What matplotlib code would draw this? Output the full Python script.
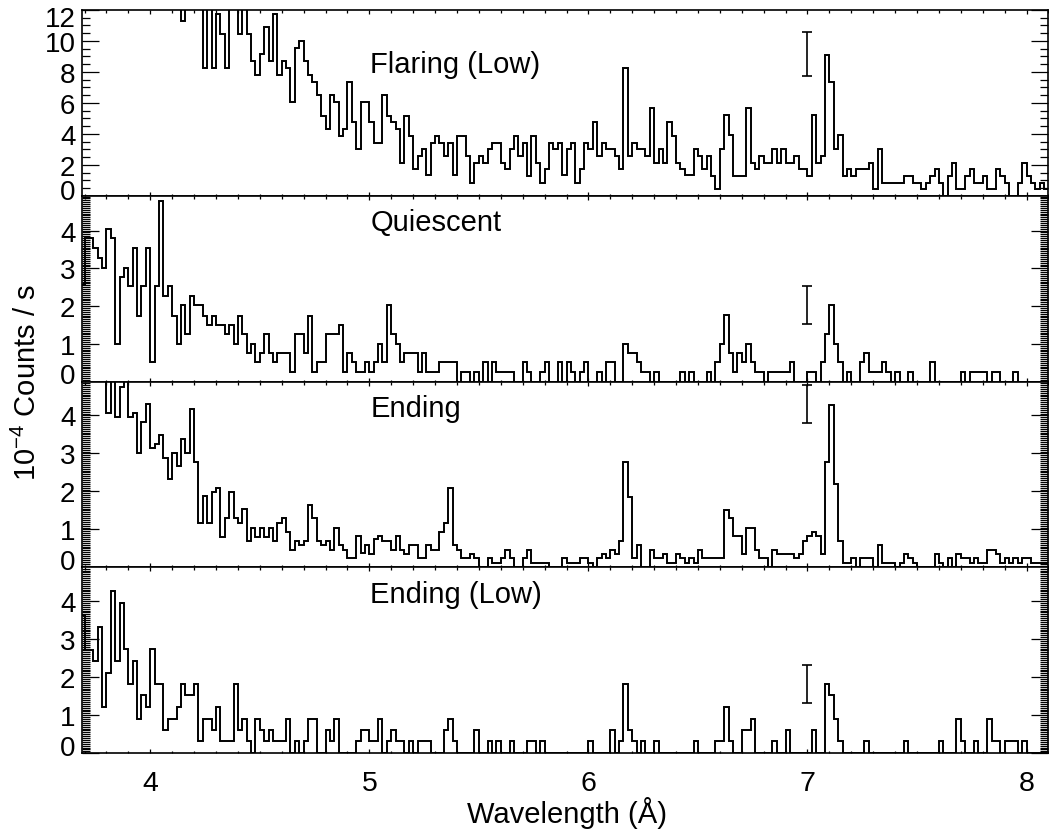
import numpy as np
import matplotlib
matplotlib.use("Agg")
import matplotlib.pyplot as plt
from matplotlib.ticker import MultipleLocator
from matplotlib.transforms import ScaledTranslation

plt.rcParams['font.family'] = ['Liberation Sans', 'DejaVu Sans']
plt.rcParams['mathtext.fontset'] = 'custom'
plt.rcParams['mathtext.rm'] = 'Liberation Sans'

# 0.02 A bins starting at 3.68 A, rates in 1e-4 counts/s
bin_start = 3.68
bin_width = 0.02

flaring_low = [
    21, 20, 19.5, 20.5, 18, 19, 17.5, 18, 16.5, 17,                # 3.68
    15.5, 16, 15, 15.5, 14.5, 14, 15, 13.5, 14, 13,                # 3.88
    13.5, 12.8, 13.2, 11.3, 12.6, 13.0, 12.8, 13.1, 8.27, 12.9,    # 4.08
    8.27, 11.77, 10.48, 8.27, 12.5, 12.7, 10.48, 12.4, 10.48, 8.72,  # 4.28
    7.81, 9.13, 10.87, 8.72, 11.77, 7.81, 8.72, 8.27, 6.04, 9.57,  # 4.48
    10.0, 8.72, 7.81, 7.38, 6.52, 5.17, 4.31, 6.52, 6.04, 3.87,    # 4.68
    4.31, 7.38, 4.78, 3.01, 6.04, 6.04, 4.78, 3.44, 3.44, 6.52,    # 4.88
    5.17, 4.78, 4.31, 2.14, 5.17, 3.87, 1.71, 2.58, 3.0, 1.32,     # 5.08
    3.44, 3.87, 3.44, 2.58, 3.44, 1.32, 3.87, 3.87, 2.58, 0.84,    # 5.28
    2.14, 2.58, 2.14, 3.0, 3.44, 3.44, 2.14, 1.71, 3.0, 3.87,      # 5.48
    2.58, 3.44, 1.28, 3.87, 2.14, 0.84, 1.71, 3.44, 3.0, 3.44,     # 5.68
    1.32, 3.0, 3.44, 0.84, 1.71, 3.44, 3.0, 4.78, 2.58, 3.44,      # 5.88
    3.0, 3.0, 2.58, 1.71, 8.25, 2.58, 3.44, 3.0, 3.0, 2.58,        # 6.08
    5.65, 2.14, 3.0, 2.14, 4.78, 3.87, 2.14, 1.71, 1.32, 1.32,     # 6.28
    3.0, 2.58, 1.71, 2.58, 1.28, 0.41, 3.0, 5.2, 3.9, 1.28,        # 6.48
    1.28, 1.28, 5.65, 2.14, 1.71, 2.58, 2.14, 2.14, 3.0, 2.14,     # 6.68
    3.0, 2.14, 2.14, 2.58, 1.71, 1.71, 1.28, 5.2, 2.14, 2.58,      # 6.88
    9.1, 7.38, 3.0, 3.9, 1.28, 1.71, 1.28, 1.71, 1.71, 1.71,       # 7.08
    2.14, 0.41, 3.0, 0.84, 0.84, 0.84, 0.84, 0.84, 1.28, 1.28,     # 7.28
    0.84, 0.84, 0.41, 0.84, 1.28, 1.71, 0.84, 0, 1.28, 2.14,       # 7.48
    0.41, 0.41, 1.28, 1.71, 0.84, 0.84, 1.28, 0.41, 0.41, 1.71,    # 7.68
    1.28, 0.84, 0, 0, 0.84, 2.14, 1.28, 0.84, 0.41, 0.84,          # 7.88
    0.41,                                                          # 8.08
]

quiescent = [
    2.55, 3.79, 3.79, 3.54, 3.27, 3.02, 4.04, 3.79, 1.0, 2.77,
    3.02, 2.52, 3.54, 1.75, 2.52, 3.54, 0.51, 2.52, 4.78, 2.27,
    2.52, 1.75, 1.0, 2.02, 1.25, 2.27, 2.02, 2.02, 1.75, 1.5,
    1.75, 1.5, 1.5, 1.25, 1.5, 1.0, 1.75, 1.25, 0.76, 1.0,
    0.51, 0.76, 1.25, 0.76, 0.51, 0.76, 0.76, 0.76, 0.25, 1.25,
    1.25, 0.76, 1.75, 0.25, 0.51, 0.51, 1.25, 1.25, 1.25, 1.5,
    0.25, 0.76, 0.51, 0.25, 0.25, 0.51, 0.25, 0.51, 1.0, 0.51,
    2.02, 1.27, 1.0, 0.51, 0.76, 0.76, 0.76, 0.25, 0.76, 0.25,
    0.25, 0.25, 0.51, 0.51, 0.51, 0.51, 0, 0.25, 0.25, 0,
    0.25, 0, 0.51, 0, 0.51, 0.25, 0.25, 0.25, 0.25, 0,
    0, 0.51, 0.25, 0, 0, 0.25, 0.51, 0, 0, 0.51,
    0, 0.51, 0.25, 0, 0.25, 0.51, 0, 0, 0.25, 0,
    0.51, 0.51, 0, 0, 1.0, 0.76, 0.76, 0.51, 0.25, 0.25,
    0, 0.25, 0, 0, 0, 0, 0, 0.25, 0, 0.25,
    0, 0, 0, 0.25, 0, 0.51, 1.0, 1.77, 0.76, 0.25,
    0.76, 0.51, 1.0, 0.51, 0.25, 0.25, 0, 0.25, 0.25, 0.25,
    0.25, 0.25, 0.51, 0, 0, 0, 0.25, 0.25, 0, 0.51,
    1.27, 2.02, 1.0, 0.51, 0, 0.25, 0, 0, 0.51, 0.76,
    0.25, 0.25, 0.25, 0.51, 0.25, 0, 0.25, 0, 0, 0.25,
    0, 0, 0, 0, 0.51, 0, 0, 0, 0, 0,
    0, 0.25, 0, 0.25, 0.25, 0.25, 0.25, 0, 0.25, 0.25,
    0, 0, 0, 0.25, 0, 0, 0, 0, 0, 0,
    0,
]

ending = [
    5.6, 5.4, 5.8, 5.3, 5.5, 5.2, 4.07, 5.3, 3.95, 4.75,
    5.2, 3.95, 4.07, 3.02, 3.83, 4.3, 3.15, 3.26, 3.48, 2.89,
    2.32, 3.02, 2.67, 3.38, 3.02, 4.18, 2.78, 1.18, 1.88, 1.18,
    1.99, 2.1, 0.81, 1.29, 1.99, 1.29, 1.18, 1.53, 0.7, 1.05,
    0.81, 1.05, 0.81, 1.05, 0.7, 1.18, 1.29, 0.94, 0.47, 0.7,
    0.59, 0.7, 1.64, 1.29, 0.7, 0.59, 0.7, 0.47, 1.05, 0.59,
    0.47, 0.24, 0.24, 0.82, 0.37, 0.59, 0.35, 0.76, 0.82, 0.7,
    0.7, 0.47, 0.82, 0.47, 0.35, 0.59, 0.59, 0.24, 0.24, 0.59,
    0.47, 0.47, 0.94, 1.17, 2.08, 0.59, 0.47, 0.24, 0.24, 0.35,
    0.24, 0, 0, 0.24, 0.12, 0.12, 0.24, 0.47, 0.24, 0,
    0, 0.24, 0.47, 0.12, 0.12, 0.12, 0.12, 0, 0, 0,
    0.24, 0.12, 0.12, 0.12, 0.24, 0.24, 0.12, 0, 0.24, 0.35,
    0.24, 0.47, 0.35, 0.7, 2.78, 1.86, 0.24, 0.59, 0, 0,
    0.47, 0.24, 0.24, 0.35, 0.12, 0.12, 0.35, 0.24, 0.12, 0.24,
    0.12, 0.47, 0.24, 0.24, 0.24, 0.24, 0.24, 1.51, 1.29, 0.82,
    0.82, 0.35, 1.05, 1.05, 0.47, 0.24, 0.24, 0, 0.47, 0.35,
    0.35, 0.35, 0.35, 0.24, 0.35, 0.7, 0.82, 0.94, 0.82, 0.35,
    2.78, 4.27, 2.19, 0.7, 0.12, 0.12, 0.24, 0, 0.24, 0.24,
    0.24, 0, 0.59, 0.12, 0.12, 0.12, 0, 0.12, 0.35, 0.24,
    0.12, 0, 0, 0, 0, 0.35, 0.12, 0, 0.24, 0,
    0.35, 0.24, 0.24, 0.12, 0.24, 0.12, 0.12, 0.47, 0.47, 0.35,
    0.12, 0.24, 0.12, 0.24, 0.12, 0.24, 0.24, 0.12, 0.12, 0.12,
    0.12,
]

ending_low = [
    3.63, 2.71, 2.71, 2.42, 3.32, 1.22, 2.11, 4.25, 2.42, 3.94,
    2.73, 1.82, 2.42, 0.91, 1.53, 1.22, 2.73, 1.82, 1.82, 0.61,
    0.91, 0.91, 1.22, 1.82, 1.53, 1.53, 1.82, 0.31, 0.91, 0.91,
    0.61, 1.22, 0.31, 0.31, 0.31, 1.82, 0.61, 0.91, 0.31, 0,
    0.91, 0.61, 0.31, 0.61, 0.31, 0.31, 0.31, 0.91, 0, 0.31,
    0, 0.31, 0.91, 0.91, 0, 0, 0.61, 0.31, 0.91, 0,
    0, 0, 0, 0.31, 0.61, 0.61, 0.31, 0.31, 0.91, 0,
    0.31, 0.61, 0.31, 0.31, 0, 0.31, 0, 0.31, 0.31, 0.31,
    0, 0, 0, 0.61, 0.91, 0.31, 0, 0, 0, 0,
    0.61, 0, 0, 0.31, 0, 0.31, 0, 0, 0.31, 0,
    0, 0, 0.31, 0.31, 0, 0.31, 0, 0, 0, 0,
    0, 0, 0, 0, 0, 0, 0.31, 0, 0, 0,
    0, 0.61, 0, 0.31, 1.82, 0.61, 0.31, 0, 0.31, 0,
    0, 0.31, 0, 0, 0, 0, 0, 0, 0, 0,
    0.31, 0, 0, 0, 0, 0.31, 0.31, 1.22, 0.31, 0,
    0, 0.61, 0.61, 0.91, 0, 0, 0, 0, 0.31, 0,
    0, 0.61, 0, 0, 0, 0, 0, 0.61, 0, 0,
    1.82, 1.53, 0.91, 0.31, 0, 0, 0, 0, 0, 0.31,
    0, 0, 0, 0, 0, 0, 0, 0, 0.31, 0,
    0, 0, 0, 0, 0, 0, 0.31, 0, 0, 0,
    0.91, 0.31, 0, 0, 0.31, 0, 0, 0.91, 0.31, 0.31,
    0, 0.31, 0.31, 0.31, 0, 0.31, 0, 0, 0, 0,
    0,
]

panel_names = ['Flaring (Low)', 'Quiescent', 'Ending', 'Ending (Low)']
panel_data = [flaring_low, quiescent, ending, ending_low]
panel_ymax = [12.0, 4.92, 4.89, 4.88]
panel_yticks = [[0, 2, 4, 6, 8, 10, 12], [0, 1, 2, 3, 4], [0, 1, 2, 3, 4], [0, 1, 2, 3, 4]]
panel_yminor = [0.5, 0.05, 0.05, 0.05]
# representative error bar drawn at 7 A
err_x = 7.0
err_mid = [9.15, 2.02, 4.29, 1.82]
err_half = [1.44, 0.50, 0.50, 0.51]
# label baseline in axes fraction
name_y = [0.668, 0.817, 0.814, 0.815]
# upward nudge (pt) of the "0" label in each panel
zero_shift = [5.0, 6.0, 6.0, 6.0]

fig = plt.figure(figsize=(10.49, 8.37), dpi=100)
axes = fig.subplots(4, 1, sharex=True, gridspec_kw={'hspace': 0})
fig.subplots_adjust(left=0.0785, right=0.9995, top=0.9869, bottom=0.0988)

for i, ax in enumerate(axes):
    vals = np.array(panel_data[i], dtype=float)
    edges = np.round(bin_start + bin_width * np.arange(len(vals) + 1), 2)
    ax.stairs(vals, edges, baseline=None, color='black', lw=1.4)
    ax.errorbar([err_x], [err_mid[i]], yerr=[err_half[i]], fmt='none',
                ecolor='black', elinewidth=1.2, capsize=3.3, capthick=1.2)

    ax.set_xlim(3.69, 8.10)
    ax.set_ylim(0, panel_ymax[i])
    ax.set_yticks(panel_yticks[i])
    ax.yaxis.set_minor_locator(MultipleLocator(panel_yminor[i]))
    ax.xaxis.set_major_locator(MultipleLocator(1))
    ax.xaxis.set_minor_locator(MultipleLocator(0.1))

    ax.tick_params(axis='y', which='major', direction='in', left=True, right=True,
                   length=12.5, width=0.9, labelsize=20, pad=5)
    ax.tick_params(axis='y', which='minor', direction='in', left=True, right=True,
                   length=6, width=0.9)
    ax.tick_params(axis='x', which='major', direction='in', top=True, bottom=True,
                   length=3, width=0.9, labelsize=20.5, pad=12)
    ax.tick_params(axis='x', which='minor', direction='in', top=True, bottom=True,
                   length=1.8, width=0.9)
    for sp in ax.spines.values():
        sp.set_linewidth(1.2)

    ax.text(5.005, name_y[i], panel_names[i], transform=ax.get_xaxis_transform(),
            fontsize=21, ha='left', va='baseline')

    # keep the end labels inside the panel
    ticks = ax.yaxis.get_major_ticks()
    lab0 = ticks[0].label1
    lab0.set_transform(lab0.get_transform()
                       + ScaledTranslation(0, zero_shift[i] / 72, fig.dpi_scale_trans))
    if i == 0:
        labtop = ticks[-1].label1
        labtop.set_transform(labtop.get_transform()
                             + ScaledTranslation(0, -4.5 / 72, fig.dpi_scale_trans))

fig.text(27 / 1049, 0.543, '10$^{-4}$ Counts / s', rotation=90,
         ha='center', va='center', fontsize=21)
fig.text(0.5405, 1 - 823 / 837, 'Wavelength (Å)', ha='center', va='baseline', fontsize=21)

fig.savefig('out.png', dpi=100)
